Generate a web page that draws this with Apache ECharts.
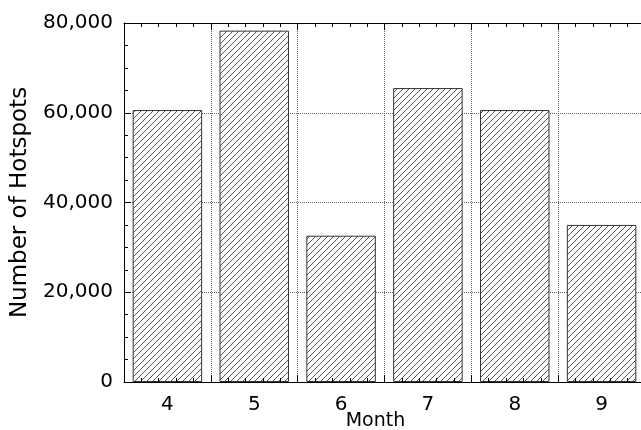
<!DOCTYPE html>
<html>
<head>
<meta charset="utf-8">
<script src="https://cdn.jsdelivr.net/npm/echarts@6/dist/echarts.min.js"></script>
<style>html,body{margin:0;padding:0;background:#fff}#c{width:641px;height:430px}</style>
</head>
<body>
<div id="c"></div>
<script>
const months = ['4', '5', '6', '7', '8', '9'];
const hotspots = [60600, 78300, 32600, 65500, 60600, 35000];
const yTicks = [0, 20000, 40000, 60000, 80000];

const FONT = 'DejaVu Sans';

// diagonal hatch pattern
const pc = document.createElement('canvas');
pc.width = 6; pc.height = 6;
const g = pc.getContext('2d');
g.fillStyle = '#fff';
g.fillRect(0, 0, 6, 6);
g.strokeStyle = '#444';
g.lineWidth = 0.9;
g.beginPath();
g.moveTo(-1, 7); g.lineTo(7, -1);
g.moveTo(-1, 1); g.lineTo(1, -1);
g.moveTo(5, 7); g.lineTo(7, 5);
g.stroke();

const chart = echarts.init(document.getElementById('c'), null, {renderer: 'canvas'});
const gridRect = {left: 124, top: 23, width: 521, height: 359, containLabel: false, outerBoundsMode: 'none'};
const dotted = {show: true, lineStyle: {color: '#666', type: [1, 1], width: 1}};

chart.setOption({
  animation: false,
  backgroundColor: '#fff',
  grid: [
    Object.assign({}, gridRect),
    Object.assign({}, gridRect)
  ],
  xAxis: [
    {
      type: 'category', data: months, gridIndex: 0, position: 'bottom',
      axisLine: {show: true, lineStyle: {color: '#000', width: 1}},
      axisTick: {show: false},
      axisLabel: {color: '#000', fontFamily: FONT, fontSize: 20, margin: 13},
      splitLine: dotted,
      name: 'Month', nameLocation: 'middle', nameGap: 30, nameMoveOverlap: false,
      nameTextStyle: {color: '#000', fontFamily: FONT, fontSize: 19, padding: [0, 18, 0, 0]}
    },
    {
      type: 'value', gridIndex: 0, position: 'top', min: 0, max: 6, interval: 1, z: 5,
      axisLine: {show: true, lineStyle: {color: '#000', width: 1}},
      axisTick: {show: true, inside: true, length: 7, lineStyle: {color: '#000'}},
      minorTick: {show: true, splitNumber: 5, length: 4, lineStyle: {color: '#000'}},
      axisLabel: {show: false}, splitLine: {show: false}
    },
    {
      type: 'value', gridIndex: 1, position: 'bottom', min: 0, max: 6, interval: 1, z: 5,
      axisLine: {show: false},
      axisTick: {show: true, inside: true, length: 7, lineStyle: {color: '#000'}},
      minorTick: {show: true, splitNumber: 5, length: 4, lineStyle: {color: '#000'}},
      axisLabel: {show: false}, splitLine: {show: false}
    }
  ],
  yAxis: [
    {
      type: 'value', gridIndex: 0, min: yTicks[0], max: yTicks[yTicks.length - 1], interval: yTicks[1] - yTicks[0],
      axisLine: {show: true, lineStyle: {color: '#000', width: 1}},
      axisTick: {show: true, inside: true, length: 7, lineStyle: {color: '#000'}},
      minorTick: {show: true, splitNumber: 4, length: 4, lineStyle: {color: '#000'}},
      axisLabel: {
        color: '#000', fontFamily: FONT, fontSize: 20, margin: 11, padding: [0, 0, 6, 0],
        formatter: v => v.toLocaleString('en-US')
      },
      splitLine: dotted,
      name: 'Number of Hotspots', nameLocation: 'middle', nameGap: 92, nameMoveOverlap: false,
      nameTextStyle: {color: '#000', fontFamily: FONT, fontSize: 23}
    },
    {
      type: 'value', gridIndex: 1, min: 0, max: 1, show: false
    }
  ],
  series: [{
    type: 'bar',
    xAxisIndex: 0, yAxisIndex: 0,
    data: hotspots,
    barWidth: '80%',
    itemStyle: {
      color: {image: pc, repeat: 'repeat'},
      borderColor: '#333', borderWidth: 1
    },
    z: 1
  }]
});
</script>
</body>
</html>
